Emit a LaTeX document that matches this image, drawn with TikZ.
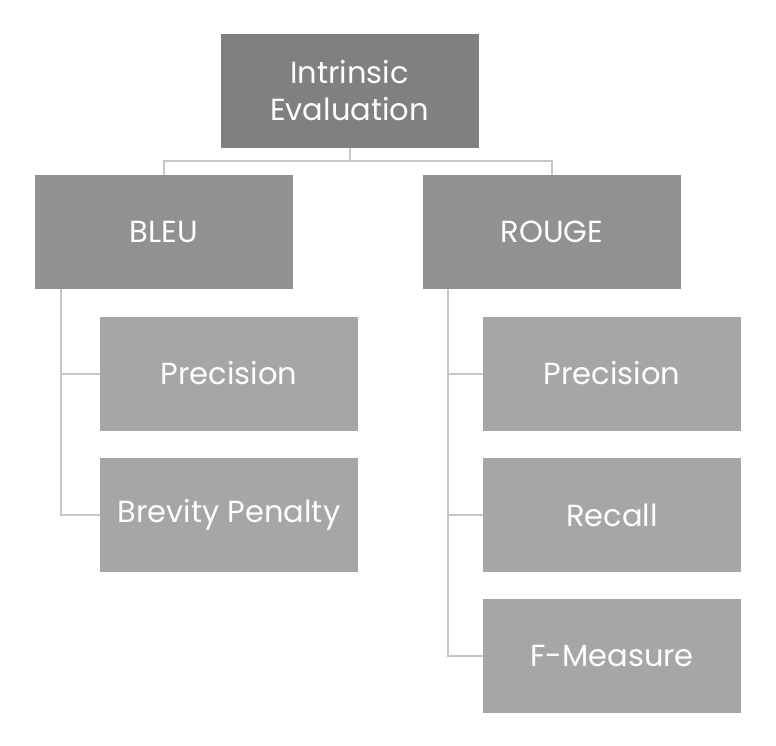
\documentclass[tikz,border=0pt]{standalone}
\usepackage{fontspec}
\setmainfont{Poppins}
\begin{document}
\begin{tikzpicture}[x=1pt,y=-1pt]
\tikzset{
  box/.style={minimum width=258pt, minimum height=114pt, inner sep=0pt, text=white, font=\fontsize{30.5}{37}\selectfont, align=center},
  topbox/.style={box, fill=black!50},
  midbox/.style={box, fill=black!43},
  leafbox/.style={box, fill=black!35},
  link/.style={draw=black!22, line width=2pt}
}
\useasboundingbox (0,0) rectangle (776,746);
\node[topbox] (intr) at (349.5,91) {Intrinsic\\Evaluation};
\node[midbox] (bleu) at (164,232) {BLEU};
\node[midbox] (rouge) at (552,232) {ROUGE};
\node[leafbox] (bprec) at (229,373.5) {Precision};
\node[leafbox] (brev) at (229,515) {Brevity Penalty};
\node[leafbox] (rprec) at (612,373.5) {Precision};
\node[leafbox] (rrec) at (612,515) {Recall};
\node[leafbox] (rfm) at (612,656) {F-Measure};
% tree links
\draw[link] (intr.south) -- ++(0,13) -| (bleu.north);
\draw[link] (intr.south) -- ++(0,13) -| (rouge.north);
\draw[link] (bleu.south west) ++(26,0) |- (bprec.west);
\draw[link] (bleu.south west) ++(26,0) |- (brev.west);
\foreach \n in {rprec,rrec,rfm}
	\draw[link] (rouge.south west) ++(25,0) |- (\n.west);
\end{tikzpicture}
\end{document}
